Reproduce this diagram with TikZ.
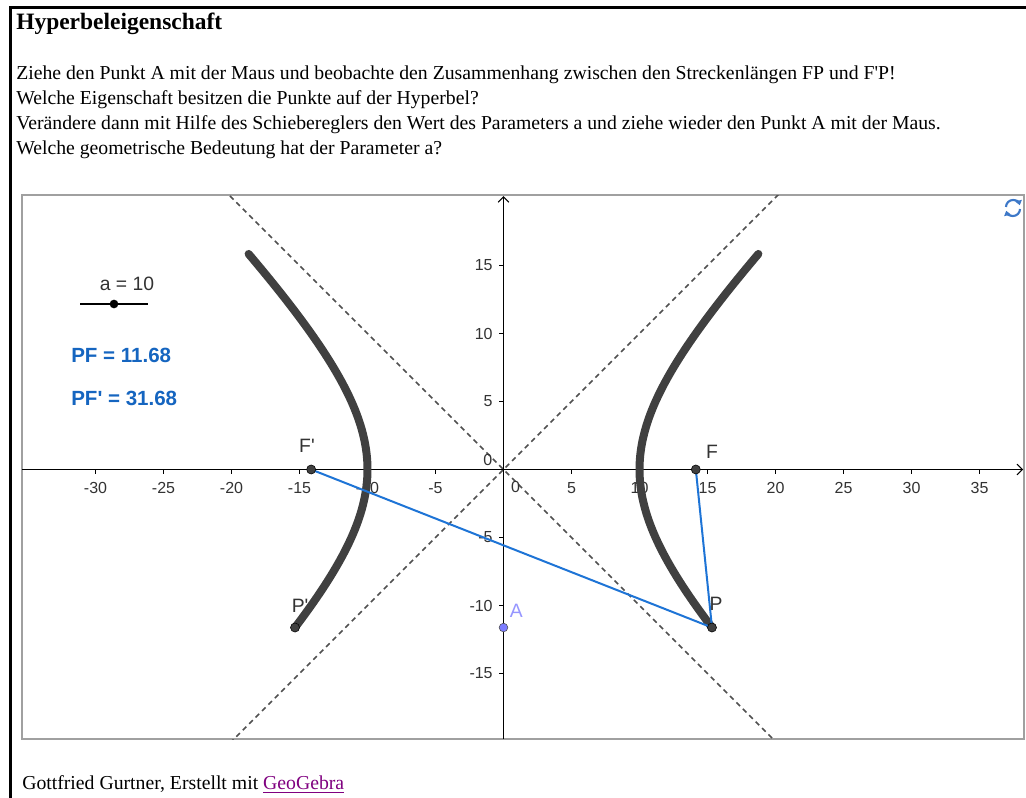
\documentclass[tikz,border=0pt]{standalone}
\usepackage{fontspec}
\setmainfont{Liberation Serif}[Ligatures=TeXOff]
\setsansfont{Liberation Sans}[Ligatures=TeXOff]
\usetikzlibrary{arrows.meta}
\definecolor{curvegray}{HTML}{404040}
\definecolor{segblue}{HTML}{1E74D6}
\definecolor{valblue}{HTML}{1565C0}
\definecolor{apt}{RGB}{125,125,255}
\definecolor{alab}{RGB}{150,150,255}
\definecolor{boxgray}{HTML}{A0A0A0}
\definecolor{linkpurple}{HTML}{800080}
\definecolor{iconblue}{HTML}{3D78C8}
\definecolor{dashgray}{HTML}{505050}
\definecolor{labgray}{HTML}{333333}
\newcommand{\sq}{\symbol{39}}
\tikzset{
  bodytext/.style={anchor=base west, inner sep=0pt, font=\fontsize{14.8}{18}\selectfont},
  ticklab/.style={font=\sffamily\fontsize{12}{14}\selectfont, text=labgray, inner sep=0pt},
  ptlab/.style={font=\sffamily\fontsize{14.5}{16}\selectfont, text=labgray, inner sep=0pt},
  valtext/.style={anchor=west, font=\sffamily\bfseries\fontsize{15.4}{17}\selectfont, text=valblue, inner sep=0pt},
  dot/.style={circle, fill=curvegray, draw=black, line width=0.4pt, inner sep=0pt, minimum size=6.8pt},
  asym/.style={dashgray, line width=1.1pt, dash pattern=on 3.8pt off 3pt},
  locus/.style={curvegray, line width=6pt, line cap=round},
  seg/.style={segblue, line width=1.5pt},
  axis/.style={black, line width=0.8pt, -{Straight Barb[length=4pt,width=8pt]}}
}
\begin{document}
\begin{tikzpicture}[x=0.75pt,y=-0.75pt]
\useasboundingbox (0,0) rectangle (1026,798);
\fill[white] (0,0) rectangle (1026,798);
% outer frame
\draw[black, line width=2.25pt] (10,820) -- (10,8) -- (1040,8);
% text
\node[anchor=base west, inner sep=0pt, font=\fontsize{17.6}{20}\selectfont\bfseries] (title) at (16,30) {Hyperbeleigenschaft};
\node[bodytext] (l1) at (16,80) {Ziehe den Punkt A mit der Maus und beobachte den Zusammenhang zwischen den Streckenlängen FP und F\sq P!};
\node[bodytext] (l2) at (16,105) {Welche Eigenschaft besitzen die Punkte auf der Hyperbel?};
\node[bodytext] (l3) at (16,130) {Verändere dann mit Hilfe des Schiebereglers den Wert des Parameters a und ziehe wieder den Punkt A mit der Maus.};
\node[bodytext] (l4) at (16,155) {Welche geometrische Bedeutung hat der Parameter a?};
\node[bodytext] (foot) at (22,790) {Gottfried Gurtner, Erstellt mit \textcolor{linkpurple}{\underline{GeoGebra}}};
% graphics box
\draw[boxgray, line width=1.1pt] (22,195) rectangle (1024,739);
\begin{scope}[shift={(503.5,469.5)}, x=10.2pt, y=10.2pt]
  \clip (-35.4,-19.82) rectangle (38.27,20.18);
  % asymptotes
  \draw[asym] (-22,-22) -- (22,22);
  \draw[asym] (-22,22) -- (22,-22);
  % ticks and labels
  \foreach \k in {-30,-25,-20,-15,-10,-5,5,10,15,20,25,30,35} {
    \draw[black, line width=0.8pt] (\k,0) -- (\k,-0.3);
    \node[ticklab] at (\k,-1.33) {\k};
  }
  \foreach \k in {-15,-10,-5,5,10,15} {
    \draw[black, line width=0.8pt] (0,\k) -- (-0.3,\k);
    \node[ticklab, anchor=east] at (-0.78,\k) {\k};
  }
  \node[ticklab] (ox) at (0.88,-1.3) {0};
  \node[ticklab] (oy) at (-1.15,0.68) {0};
  % axes
  \coordinate (xl) at (-35.4,0);
  \coordinate (xr) at (38.2,0);
  \coordinate (yb) at (0,-19.82);
  \coordinate (yt) at (0,20.1);
  \draw[axis] (xl) -- (xr);
  \draw[axis] (yb) -- (yt);
  % points
  \coordinate (F) at (14.142,0);
  \coordinate (Fp) at (-14.142,0);
  \coordinate (P) at (15.33,-11.62);
  \coordinate (Pp) at (-15.33,-11.62);
  \coordinate (A) at (0,-11.62);
  \node[ptlab] (Pplab) at (-14.96,-10.04) {P\sq};
  % hyperbola locus
  \draw[locus] plot[domain=-11.62:15.85, samples=80, smooth] ({sqrt(100+\x*\x)}, \x);
  \draw[locus] plot[domain=-11.62:15.85, samples=80, smooth] ({-sqrt(100+\x*\x)}, \x);
  % segments
  \draw[seg] (Fp) -- (P);
  \draw[seg] (F) -- (P);
  % dots
  \node[dot] (Fdot) at (F) {};
  \node[dot] (Fpdot) at (Fp) {};
  \node[dot] (Pdot) at (P) {};
  \node[dot] (Ppdot) at (Pp) {};
  \node[circle, fill=apt, draw=black!70, line width=0.4pt, inner sep=0pt, minimum size=6.5pt] (Adot) at (A) {};
  % labels
  \node[ptlab] (Flab) at (15.33,1.29) {F};
  \node[ptlab] (Fplab) at (-14.45,1.73) {F\sq};
  \node[ptlab] (Plab) at (15.63,-9.85) {P};
  \node[ptlab, text=alab] (Alab) at (0.95,-10.4) {A};
\end{scope}
% slider
\coordinate (sl) at (80,304);
\coordinate (sr) at (148,304);
\draw[black, line width=0.8pt] (sl) -- (sr);
\node[circle, fill=black, inner sep=0pt, minimum size=6.5pt] (sdot) at (114,304) {};
\node[ptlab] (slab) at (127,284) {a = 10};
% values
\node[valtext] (pf) at (71,355) {PF = 11.68};
\node[valtext] (pfp) at (71,398) {PF\sq\ = 31.68};
% refresh icon
\draw[iconblue, line width=1.6pt, -{Triangle[length=3.5pt,width=5pt]}] (1006,207) arc[start angle=180, end angle=345, radius=7];
\draw[iconblue, line width=1.6pt, -{Triangle[length=3.5pt,width=5pt]}] (1020,209) arc[start angle=0, end angle=165, radius=7];
\end{tikzpicture}
\end{document}
